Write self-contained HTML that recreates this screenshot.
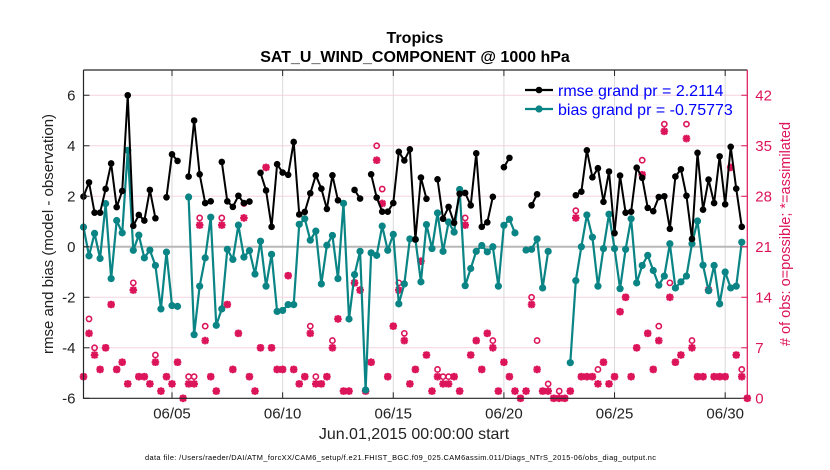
<!DOCTYPE html>
<html><head><meta charset="utf-8"><style>
html,body{margin:0;padding:0;background:#fff;}
svg{display:block;font-family:"Liberation Sans",Arial,sans-serif;}
</style></head><body>
<svg id="chart" width="830" height="470" viewBox="0 0 830 470" xmlns="http://www.w3.org/2000/svg">
<rect x="0" y="0" width="830" height="470" fill="#fff"/>
<text x="415" y="43" text-anchor="middle" font-size="16" font-weight="bold">Tropics</text>
<text x="415" y="62" text-anchor="middle" font-size="16" font-weight="bold">SAT_U_WIND_COMPONENT @ 1000 hPa</text>
<g id="grid"></g>
<g id="marks"></g>
<g id="axes"></g>
<text x="414" y="439" text-anchor="middle" font-size="16" fill="#222">Jun.01,2015 00:00:00 start</text>
<text x="145" y="460" font-size="7.4" fill="#000" textLength="511">data file: /Users/raeder/DAI/ATM_forcXX/CAM6_setup/f.e21.FHIST_BGC.f09_025.CAM6assim.011/Diags_NTrS_2015-06/obs_diag_output.nc</text>
<text transform="translate(53,234) rotate(-90)" text-anchor="middle" font-size="15" fill="#222">rmse and bias (model - observation)</text>
<text transform="translate(790,234) rotate(-90)" text-anchor="middle" font-size="14.5" fill="#dc145a"># of obs: o=possible; *=assimilated</text>
<g id="legend"></g>
</svg>
<script>
const rmse = [1.99,2.55,1.35,1.35,2.29,3.3,1.57,2.21,6.0,0.83,1.26,1.04,2.25,1.13,null,1.96,3.66,3.4,null,2.78,5.0,2.87,1.73,1.8,null,3.36,1.8,1.58,2.02,1.73,1.79,null,2.93,2.23,0.79,3.27,2.94,2.85,4.15,1.28,1.38,2.12,2.83,2.3,1.5,2.83,1.84,null,null,2.25,1.91,null,2.87,1.95,1.39,1.39,1.73,3.76,3.42,3.86,0.29,2.74,1.9,null,2.67,1.11,1.58,0.95,2.1,2.13,1.64,3.7,0.79,0.97,1.98,null,3.15,3.52,null,null,null,1.64,2.08,null,null,null,null,null,null,2.04,2.18,3.82,2.75,3.11,1.78,2.98,0.54,2.82,1.35,1.39,3.13,2.73,1.54,1.41,1.97,2.0,0.71,2.78,3.07,2.02,0.31,3.72,1.47,2.66,1.73,3.58,1.68,3.96,2.3,0.79,null];
const bias = [0.78,-0.36,0.53,-0.46,1.71,-1.26,1.04,0.55,3.82,-0.14,0.46,-0.44,-0.13,-0.74,-2.46,-0.21,-2.33,-2.36,null,1.97,-3.48,-1.56,-0.44,1.17,-3.11,-2.46,-0.1,-0.5,0.86,-0.41,-0.15,-1.08,0.22,-1.56,-0.3,-2.56,-2.52,-2.29,-2.29,0.89,1.11,0.26,0.62,-1.47,0.06,0.45,-1.26,1.72,-2.86,-1.1,-0.18,-5.67,-0.24,-0.34,0.82,-0.14,0.49,-2.26,-1.47,0.31,0.29,-1.39,0.88,-0.07,1.34,-0.18,0.98,0.58,2.27,-1.54,-0.86,-0.18,0.05,-0.2,0.0,-1.56,0.85,1.09,0.55,null,-0.13,-0.1,0.31,-1.63,-0.18,null,null,null,-4.59,-1.34,0.0,1.26,0.38,-1.56,-0.07,1.29,-0.07,-1.66,-0.1,1.11,-1.43,-0.74,-0.34,-0.94,-1.52,-1.16,0.12,-1.63,-1.39,-1.16,0.12,1.02,-0.73,-1.74,-0.74,-2.26,-1.0,-1.63,-1.56,0.18,null];
const assimilated = [3,9,6,4,7,13,4,5,2,15,3,3,2,5,1,3,2,5,0,2,2,24,8,3,1,24,13,4,9,25,3,1,7,32,7,4,4,17,4,2,3,9,2,2,3,7,11,1,1,16,15,1,5,33,27,3,10,15,8,2,4,19,6,1,3,2,2,3,1,24,6,8,4,9,7,1,5,3,1,0,1,13,4,1,1,0,0,0,1,25,3,3,3,2,5,2,3,12,14,3,7,31,9,4,8,37,14,5,6,36,7,3,3,15,3,3,3,32,6,3,0];
const possible = [3,11,7,4,7,13,4,5,2,16,3,3,2,6,1,3,2,5,0,3,3,25,10,3,1,25,13,4,9,27,3,1,7,32,7,4,4,17,4,2,3,10,3,2,3,8,11,1,1,16,15,1,5,35,29,3,10,16,9,2,4,19,6,1,4,3,3,3,1,25,6,8,4,9,8,1,5,3,1,0,1,14,8,1,2,0,1,0,1,26,3,3,3,4,5,2,3,12,14,3,7,33,9,4,10,38,16,5,6,38,8,3,3,15,3,3,3,32,6,4,0];
const xTickDays = [4,9,14,19,24,29];
const xTickLabels = ['06/05','06/10','06/15','06/20','06/25','06/30'];
const yTicks = [-6,-4,-2,0,2,4,6];
const rTicks = [0,7,14,21,28,35,42];
const legendLabels = ['rmse grand pr = 2.2114','bias grand pr = -0.75773'];
const stepDays = 0.25;

const L=83.5,R=747.3,T=70,B=398.3;
const xMin=0,xMax=30,yMin=-6,yMax=7,cMin=0,cMax=45.5;
const X=d=>L+(d-xMin)/(xMax-xMin)*(R-L);
const Y=v=>B-(v-yMin)/(yMax-yMin)*(B-T);
const C=c=>B-(c-cMin)/(cMax-cMin)*(B-T);
const NS='http://www.w3.org/2000/svg';
function mk(tag,attrs,parent){const e=document.createElementNS(NS,tag);for(const k in attrs)e.setAttribute(k,attrs[k]);parent.appendChild(e);return e;}
const grid=document.getElementById('grid'),marks=document.getElementById('marks'),axes=document.getElementById('axes'),legend=document.getElementById('legend');
const MAG='#dc145a',TEAL='#0a8484';

yTicks.forEach(v=>{ if(v===0||v===yMin) return;
  const l=mk('line',{x1:L,x2:R,y1:Y(v),y2:Y(v),stroke:'#f5d3e0','stroke-width':1},grid);
  
  
});
xTickDays.forEach(d=>{
  const l=mk('line',{x1:X(d),x2:X(d),y1:T,y2:B,stroke:'#dadada','stroke-width':1},grid);
  
  
});
const z=mk('line',{x1:L,x2:R,y1:Y(0),y2:Y(0),stroke:'#b8b8b8','stroke-width':2},grid);



assimilated.forEach((c,i)=>{
  const x=X(i*stepDays);
  const p=possible[i];
  const o=mk('circle',{cx:x,cy:C(p),r:2.6,fill:'none',stroke:MAG,'stroke-width':1.6},marks);
  
  
  const y=C(c),s=3.8;
  const g=mk('path',{d:`M${x-s},${y}H${x+s}M${x},${y-s}V${y+s}M${x-s*0.75},${y-s*0.75}L${x+s*0.75},${y+s*0.75}M${x-s*0.75},${y+s*0.75}L${x+s*0.75},${y-s*0.75}`,stroke:MAG,'stroke-width':2.2,fill:'none'},marks);
  
  
});

function series(arr,color,r,lw,name){
  let d='';let pen=false;
  arr.forEach((v,i)=>{ if(v===null){pen=false;return;} d+=(pen?'L':'M')+X(i*stepDays).toFixed(2)+','+Y(v).toFixed(2);pen=true;});
  const p=mk('path',{d:d,stroke:color,'stroke-width':lw,fill:'none','stroke-linejoin':'round'},marks);
  
  
  arr.forEach((v,i)=>{ if(v===null) return;
    const c=mk('circle',{cx:X(i*stepDays),cy:Y(v),r:r,fill:color},marks);
    
    
  });
}
series(bias,TEAL,3.6,2.2,'bias');
series(rmse,'#000',3.3,2,'rmse');

const ab=mk('path',{d:`M${L},${T}V${B}H${R}`,stroke:'#262626','stroke-width':1.2,fill:'none'},axes);


const at=mk('line',{x1:L,x2:R,y1:T,y2:T,stroke:'#262626','stroke-width':1.2},axes);


const ar=mk('line',{x1:R,x2:R,y1:T,y2:B,stroke:MAG,'stroke-width':1.2},axes);


yTicks.forEach(v=>{
  const t=mk('line',{x1:L,x2:L+6,y1:Y(v),y2:Y(v),stroke:'#262626'},axes);
  
  
  const tx=mk('text',{x:L-8,y:Y(v)+5,'text-anchor':'end','font-size':15,fill:'#222'},axes);
  tx.textContent=String(v);
  
  
});
rTicks.forEach(c=>{
  const t=mk('line',{x1:R-6,x2:R,y1:C(c),y2:C(c),stroke:MAG},axes);
  
  
  const tx=mk('text',{x:R+8,y:C(c)+5,'font-size':15,fill:MAG},axes);
  tx.textContent=String(c);
  
  
});
xTickDays.forEach((d,i)=>{
  const t=mk('line',{x1:X(d),x2:X(d),y1:B,y2:B-6,stroke:'#262626'},axes);
  
  
  const t2=mk('line',{x1:X(d),x2:X(d),y1:T,y2:T+6,stroke:'#262626'},axes);
  
  
  const tx=mk('text',{x:X(d),y:B+20,'text-anchor':'middle','font-size':15,fill:'#222'},axes);
  tx.textContent=xTickLabels[i];
  
  
});

const lc=['#000',TEAL],lr=[3.3,3.6];
legendLabels.forEach((lab,i)=>{
  const y=90+i*19;
  const l=mk('line',{x1:525,x2:553,y1:y,y2:y,stroke:lc[i],'stroke-width':2.2},legend);
  
  
  const c=mk('circle',{cx:539,cy:y,r:lr[i],fill:lc[i]},legend);
  
  
  const t=mk('text',{x:558,y:y+6,'font-size':16,fill:'#0000ff'},legend);
  t.textContent=lab;
  
  
});
</script>
</body></html>
